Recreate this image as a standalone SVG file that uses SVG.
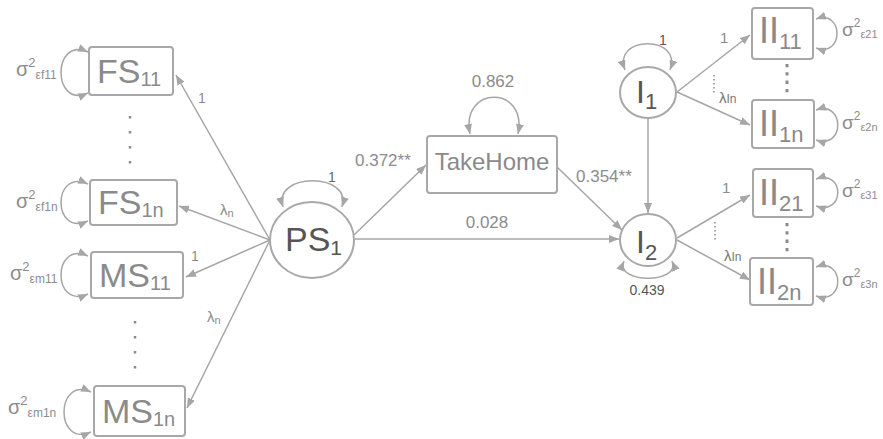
<svg xmlns="http://www.w3.org/2000/svg" width="883" height="439" viewBox="0 0 883 439">
<defs>
<marker id="ah" viewBox="0 0 10 8" refX="10" refY="4" markerWidth="10" markerHeight="8" markerUnits="userSpaceOnUse" orient="auto-start-reverse">
<path d="M0,0 L10,4 L0,8 z" fill="#a6a6a6"/>
</marker>
<style>
text{font-family:"Liberation Sans",Arial,sans-serif}
.box{fill:#fff;stroke:#a8a8a8;stroke-width:2}
.circ{fill:#fff;stroke:#a8a8a8;stroke-width:2}
.ln{fill:none;stroke:#a6a6a6;stroke-width:1.5}
.arr{marker-end:url(#ah)}
.loop{fill:none;stroke:#a6a6a6;stroke-width:1.5;marker-start:url(#ah);marker-end:url(#ah)}
.bt{fill:#8a8a8a}
.ct{fill:#555}
.lab{fill:#8c8c8c}
.dk{fill:#555}
.sg{fill:#8c8c8c}
.dots{fill:none;stroke:#8c8c8c}
</style>
</defs>
<g id="connectors">
<line class="ln arr" x1="270" y1="240" x2="176" y2="75"/>
<line class="ln arr" x1="270" y1="240" x2="179" y2="206"/>
<line class="ln arr" x1="270" y1="240" x2="186" y2="277"/>
<line class="ln arr" x1="270" y1="240" x2="187" y2="408"/>
<line class="ln arr" x1="354" y1="235" x2="426" y2="165"/>
<line class="ln arr" x1="355" y1="239" x2="619" y2="239"/>
<line class="ln arr" x1="557" y1="167" x2="622" y2="230"/>
<line class="ln arr" x1="648" y1="118" x2="648" y2="213"/>
<line class="ln arr" x1="677" y1="92" x2="750" y2="35"/>
<line class="ln arr" x1="677" y1="92" x2="750" y2="125"/>
<line class="ln arr" x1="677" y1="238" x2="750" y2="195"/>
<line class="ln arr" x1="677" y1="240" x2="750" y2="280"/>
<path class="loop" d="M88,52 C52,36 52,109 88,93"/>
<path class="loop" d="M88,184 C52,168 52,237 88,221"/>
<path class="loop" d="M88,256 C52,240 52,310 88,294"/>
<path class="loop" d="M91,392 C55,376 55,448 91,432"/>
<path class="loop" d="M283,207 C272,172 353,172 342,207"/>
<path class="loop" d="M470,134 C460,85 528,85 518,134"/>
<path class="loop" d="M625,70 C612,35 683,35 670,70"/>
<path class="loop" d="M624,261 C614,284 682,284 672,261"/>
<path class="loop" d="M816,19 C844,9 844,58 816,48"/>
<path class="loop" d="M816,110 C845,100 845,150 816,140"/>
<path class="loop" d="M816,179 C845,169 845,216 816,206"/>
<path class="loop" d="M816,267 C845,257 845,306 816,296"/>
<line class="dots" x1="130" y1="116" x2="130" y2="164" stroke-width="2.5" stroke-dasharray="2.5 12.5"/>
<line class="dots" x1="135" y1="321" x2="135" y2="369" stroke-width="2.5" stroke-dasharray="2.5 12.5"/>
<line class="dots" x1="787" y1="64" x2="787" y2="96" stroke-width="3" stroke-dasharray="3.3 5"/>
<line class="dots" x1="787" y1="223" x2="787" y2="255" stroke-width="3" stroke-dasharray="3.3 5"/>
<line class="dots" x1="714" y1="75" x2="714" y2="93" stroke-width="1.5" stroke-dasharray="1.5 2.5"/>
<line class="dots" x1="715" y1="222" x2="715" y2="240" stroke-width="1.5" stroke-dasharray="1.5 2.5"/>
<text class="lab" x="198" y="103" style="font-size:14px">1</text>
<text class="lab" x="220" y="215" style="font-size:15px">λ<tspan font-size="11" dy="2">n</tspan></text>
<text class="lab" x="191" y="261" style="font-size:14px">1</text>
<text class="lab" x="207" y="322" style="font-size:15px">λ<tspan font-size="11" dy="2">n</tspan></text>
<text class="lab" x="328" y="182" style="font-size:14px;fill:#666">1</text>
<text class="lab" x="355" y="166" style="font-size:17px">0.372**</text>
<text class="lab" x="487" y="228" style="font-size:17px" text-anchor="middle">0.028</text>
<text class="lab" x="493" y="87" style="font-size:17px" text-anchor="middle">0.862</text>
<text class="lab" x="576" y="182" style="font-size:17px">0.354**</text>
<text class="dk" x="659" y="45" style="font-size:14px">1</text>
<text class="dk" x="647" y="295" style="font-size:14px" text-anchor="middle">0.439</text>
<text class="lab" x="720" y="43" style="font-size:15px">1</text>
<text class="lab" x="719" y="103" style="font-size:15px;fill:#777">λ<tspan font-size="12">In</tspan></text>
<text class="lab" x="722" y="193" style="font-size:15px">1</text>
<text class="lab" x="724" y="261" style="font-size:15px;fill:#777">λ<tspan font-size="12">In</tspan></text>
</g>
<g id="sigma-labels">
<text class="sg" x="16" y="76" style="font-size:20px">σ<tspan font-size="13" dy="-9">2</tspan><tspan font-size="12" dy="12">εf11</tspan></text>
<text class="sg" x="16" y="208" style="font-size:20px">σ<tspan font-size="13" dy="-9">2</tspan><tspan font-size="12" dy="12">εf1n</tspan></text>
<text class="sg" x="10" y="280" style="font-size:20px">σ<tspan font-size="13" dy="-9">2</tspan><tspan font-size="12" dy="12">εm11</tspan></text>
<text class="sg" x="8" y="414" style="font-size:20px">σ<tspan font-size="13" dy="-9">2</tspan><tspan font-size="12" dy="12">εm1n</tspan></text>
<text class="sg" x="842" y="36" style="font-size:19px">σ<tspan font-size="12" dy="-9">2</tspan><tspan font-size="11" dy="11">ε21</tspan></text>
<text class="sg" x="842" y="129" style="font-size:19px">σ<tspan font-size="12" dy="-9">2</tspan><tspan font-size="11" dy="11">ε2n</tspan></text>
<text class="sg" x="842" y="197" style="font-size:19px">σ<tspan font-size="12" dy="-9">2</tspan><tspan font-size="11" dy="11">ε31</tspan></text>
<text class="sg" x="842" y="286" style="font-size:19px">σ<tspan font-size="12" dy="-9">2</tspan><tspan font-size="11" dy="11">ε3n</tspan></text>
</g>
<g id="FS11"><rect class="box" x="89" y="47" width="84" height="48" rx="3"/><text class="bt" x="97" y="83" style="font-size:34px">FS<tspan font-size="20" dy="3">11</tspan></text></g>
<g id="FS1n"><rect class="box" x="90" y="180" width="87" height="45" rx="3"/><text class="bt" x="98" y="214" style="font-size:34px">FS<tspan font-size="20" dy="3">1n</tspan></text></g>
<g id="MS11"><rect class="box" x="91" y="252" width="92" height="46" rx="3"/><text class="bt" x="99" y="287" style="font-size:34px">MS<tspan font-size="20" dy="3">11</tspan></text></g>
<g id="MS1n"><rect class="box" x="94" y="386" width="91" height="50" rx="3"/><text class="bt" x="102" y="423" style="font-size:34px">MS<tspan font-size="20" dy="3">1n</tspan></text></g>
<g id="PS1"><ellipse class="circ" cx="312" cy="240" rx="42" ry="38"/><text class="ct" x="285" y="251" style="font-size:34px">PS<tspan font-size="21" dy="4">1</tspan></text></g>
<g id="TakeHome"><rect class="box" x="427" y="136" width="130" height="57" rx="3"/><text class="bt" x="492" y="170" style="font-size:24px" text-anchor="middle">TakeHome</text></g>
<g id="I1"><ellipse class="circ" cx="648" cy="92.5" rx="28" ry="25.5"/><text class="ct" x="636" y="103" style="font-size:32px">I<tspan font-size="22" dy="6">1</tspan></text></g>
<g id="I2"><ellipse class="circ" cx="648" cy="240" rx="28" ry="26"/><text class="ct" x="636" y="253" style="font-size:32px">I<tspan font-size="22" dy="7">2</tspan></text></g>
<g id="II11"><rect class="box" x="752" y="8" width="61" height="51" rx="3"/><text class="bt" x="759" y="43" style="font-size:36px">II<tspan font-size="22" dy="6">11</tspan></text></g>
<g id="II1n"><rect class="box" x="752" y="100" width="62" height="48" rx="3"/><text class="bt" x="759" y="136" style="font-size:36px">II<tspan font-size="22" dy="6">1n</tspan></text></g>
<g id="II21"><rect class="box" x="753" y="169" width="60" height="48" rx="3"/><text class="bt" x="759" y="205" style="font-size:36px">II<tspan font-size="22" dy="6">21</tspan></text></g>
<g id="II2n"><rect class="box" x="750" y="258" width="63" height="47" rx="3"/><text class="bt" x="757" y="294" style="font-size:36px">II<tspan font-size="22" dy="6">2n</tspan></text></g>
</svg>
